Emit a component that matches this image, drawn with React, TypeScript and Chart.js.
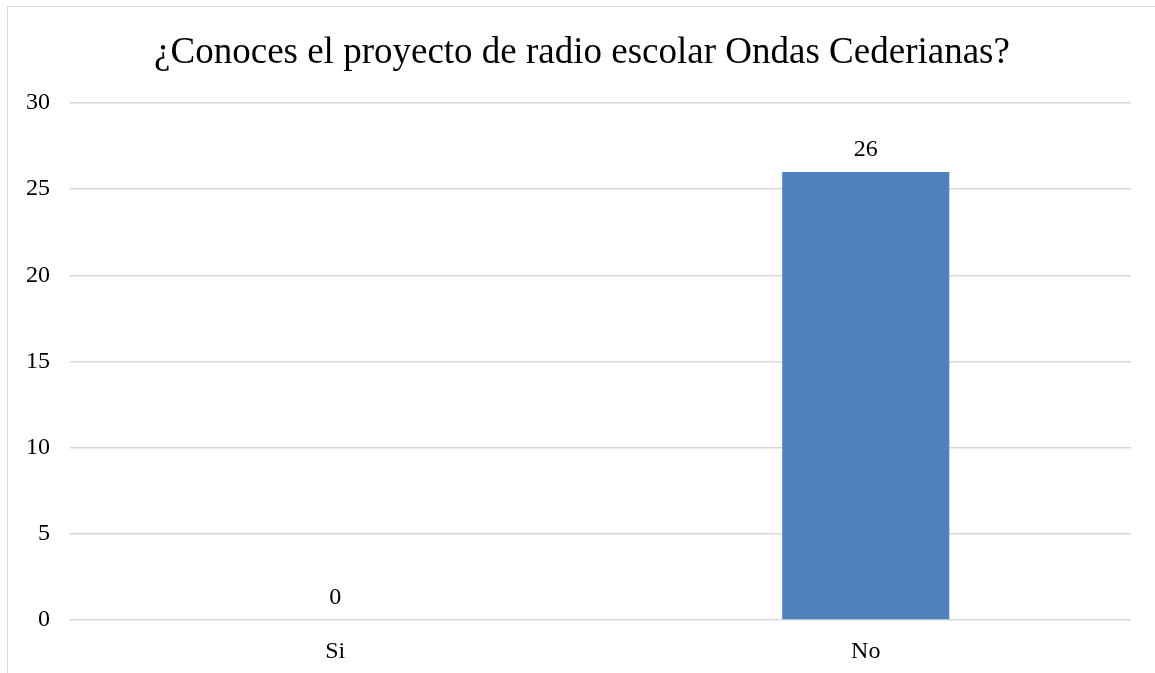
import React, { useEffect, useRef } from "react";
import { Chart, registerables } from "chart.js";

Chart.register(...registerables);

const TITLE = "¿Conoces el proyecto de radio escolar Ondas Cederianas?";
const categories = ["Si", "No"];
const values = [0, 26];
const Y_MIN = 0;
const Y_MAX = 30;
const Y_STEP = 5;

const FONT = '"Liberation Serif", "Times New Roman", serif';
const BAR_COLOR = "#4F81BD";
const GRID_COLOR = "#d9d9d9";
const TEXT_COLOR = "#000000";

const dataLabelPlugin = {
  id: "dataLabels",
  afterDatasetsDraw(chart: any) {
    const ctx = chart.ctx;
    ctx.save();
    ctx.font = `24px ${FONT}`;
    ctx.fillStyle = TEXT_COLOR;
    ctx.textAlign = "center";
    ctx.textBaseline = "alphabetic";
    chart.data.datasets.forEach((ds: any, di: number) => {
      const meta = chart.getDatasetMeta(di);
      meta.data.forEach((bar: any, i: number) => {
        ctx.fillText(String(ds.data[i]), bar.x, bar.y - 16);
      });
    });
    ctx.restore();
  },
};

const titlePlugin = {
  id: "customTitle",
  afterDraw(chart: any) {
    const ctx = chart.ctx;
    ctx.save();
    ctx.font = `37px ${FONT}`;
    ctx.fillStyle = TEXT_COLOR;
    ctx.textAlign = "center";
    ctx.textBaseline = "alphabetic";
    ctx.fillText(TITLE, 582, 63);
    ctx.restore();
  },
};

export default function App() {
  const canvasRef = useRef<HTMLCanvasElement | null>(null);

  useEffect(() => {
    if (!canvasRef.current) return;
    const chart = new Chart(canvasRef.current, {
      type: "bar",
      data: {
        labels: categories,
        datasets: [
          {
            data: values,
            backgroundColor: BAR_COLOR,
            borderWidth: 0,
            categoryPercentage: 1,
            barPercentage: 0.315,
          },
        ],
      },
      options: {
        animation: false,
        responsive: false,
        devicePixelRatio: 1,
        layout: { padding: { left: 0, right: 24, top: 103, bottom: 0 } },
        plugins: {
          legend: { display: false },
          tooltip: { enabled: false },
          title: { display: false },
        },
        scales: {
          x: {
            grid: { display: false, drawTicks: false },
            border: { display: false },
            ticks: {
              color: TEXT_COLOR,
              font: { family: FONT, size: 24 },
              padding: 17,
            },
            afterFit(scale: any) {
              scale.height = 53;
            },
          },
          y: {
            min: Y_MIN,
            max: Y_MAX,
            grid: { color: GRID_COLOR, lineWidth: 1.5, drawTicks: false },
            border: { display: false },
            ticks: {
              stepSize: Y_STEP,
              color: TEXT_COLOR,
              font: { family: FONT, size: 24 },
              padding: 20,
            },
            afterFit(scale: any) {
              scale.width = 70;
            },
          },
        },
      },
      plugins: [dataLabelPlugin, titlePlugin],
    } as any);
    return () => chart.destroy();
  }, []);

  return (
    <div
      style={{
        position: "fixed",
        left: 0,
        top: 0,
        width: 1155,
        height: 673,
        overflow: "hidden",
        background: "#ffffff",
      }}
    >
      <div
        style={{
          position: "absolute",
          left: 7,
          top: 6,
          width: 2000,
          height: 2000,
          borderTop: `1.5px solid ${GRID_COLOR}`,
          borderLeft: `1.5px solid ${GRID_COLOR}`,
        }}
      />
      <canvas
        ref={canvasRef}
        width={1155}
        height={673}
        style={{ position: "absolute", left: 0, top: 0, width: 1155, height: 673 }}
      />
    </div>
  );
}
